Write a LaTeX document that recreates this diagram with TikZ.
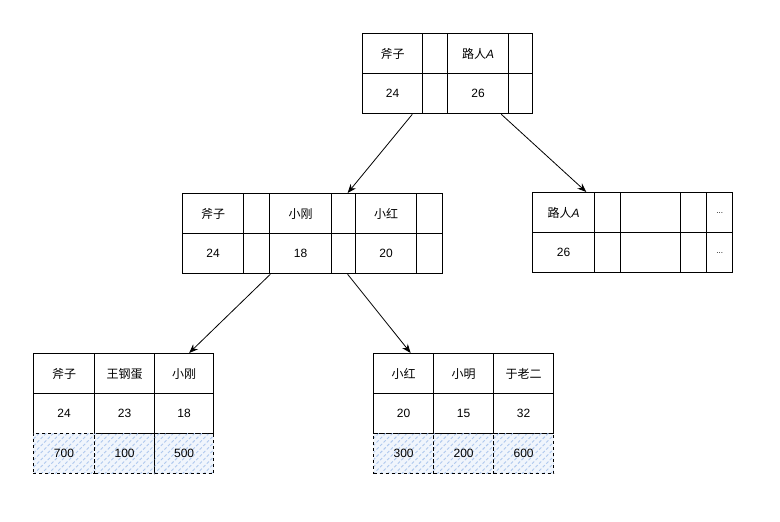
\documentclass[tikz,border=0pt]{standalone}
\usepackage{fontspec}
\setmainfont{Liberation Sans}
\newfontfamily\cjk{Noto Sans CJK SC}
\usetikzlibrary{arrows.meta,positioning,calc,patterns.meta}
\definecolor{hatchblue}{RGB}{175,200,238}
\definecolor{hatchbg}{RGB}{240,245,252}
\newcommand{\lurenA}{{\cjk 路人}\textit{A}}
\newcommand{\more}{{\fontsize{8}{9}\selectfont ...}}

\begin{document}
\begin{tikzpicture}[
  x=1pt,
  y=-1pt,
  cell/.style={draw, line width=1.3pt, anchor=north west, minimum height=40pt, inner sep=0pt, font=\fontsize{12}{14}\selectfont},
  datacell/.style={cell, dashed, preaction={fill=hatchbg}, pattern={Lines[angle=45, distance=5pt, line width=0.9pt]}, pattern color=hatchblue},
  link/.style={-{Stealth[length=9pt, width=7pt]}, line width=0.8pt}
]
  \useasboundingbox (0,0) rectangle (780,522);
  % root page: keys and pointers
  \foreach \x/\w/\k/\v/\i in {362/60/{\cjk 斧子}/24/1, 422/25/{}/{}/2, 447/61/\lurenA/26/3, 508/24/{}/{}/4} {
    \node[cell, minimum width=\w pt] (root-k\i) at (\x,33) {\k};
    \node[cell, minimum width=\w pt] (root-v\i) at (\x,73) {\v};
  }
  % second level, left page
  \foreach \x/\w/\k/\v/\i in {182/61/{\cjk 斧子}/24/1, 243/26/{}/{}/2, 269/62/{\cjk 小刚}/18/3, 331/24/{}/{}/4, 355/61/{\cjk 小红}/20/5, 416/26/{}/{}/6} {
    \node[cell, minimum width=\w pt] (mid-k\i) at (\x,193) {\k};
    \node[cell, minimum width=\w pt] (mid-v\i) at (\x,233) {\v};
  }
  % second level, right page
  \foreach \x/\w/\k/\v/\i in {532/62/\lurenA/26/1, 594/26/{}/{}/2, 620/60/{}/{}/3, 680/26/{}/{}/4, 706/26/\more/\more/5} {
    \node[cell, minimum width=\w pt] (right-k\i) at (\x,192) {\k};
    \node[cell, minimum width=\w pt] (right-v\i) at (\x,232) {\v};
  }
  % leaf pages with data rows
  \foreach \x/\w/\k/\v/\d/\i in {33/61/{\cjk 斧子}/24/700/1, 94/60/{\cjk 王钢蛋}/23/100/2, 154/59/{\cjk 小刚}/18/500/3} {
    \node[cell, minimum width=\w pt] (leafl-k\i) at (\x,353) {\k};
    \node[cell, minimum width=\w pt] (leafl-v\i) at (\x,393) {\v};
    \node[datacell, minimum width=\w pt] (leafl-d\i) at (\x,433) {\d};
  }
  \foreach \x/\w/\k/\v/\d/\i in {373/60/{\cjk 小红}/20/300/1, 433/60/{\cjk 小明}/15/200/2, 493/60/{\cjk 于老二}/32/600/3} {
    \node[cell, minimum width=\w pt] (leafr-k\i) at (\x,353) {\k};
    \node[cell, minimum width=\w pt] (leafr-v\i) at (\x,393) {\v};
    \node[datacell, minimum width=\w pt] (leafr-d\i) at (\x,433) {\d};
  }
  % pointers
  \draw[link] ($(root-v1.south east)+(-11,0)$) -- ($(mid-k4.north)+(4,0)$);
  \draw[link] ($(root-v3.south east)+(-8,0)$) -- ($(right-k1.north east)+(-9,0)$);
  \draw[link] (mid-v2.south east) -- ($(leafl-k3.north)+(5,0)$);
  \draw[link] ($(mid-v4.south)+(4,0)$) -- ($(leafr-k1.north)+(7,0)$);
\end{tikzpicture}
\end{document}
